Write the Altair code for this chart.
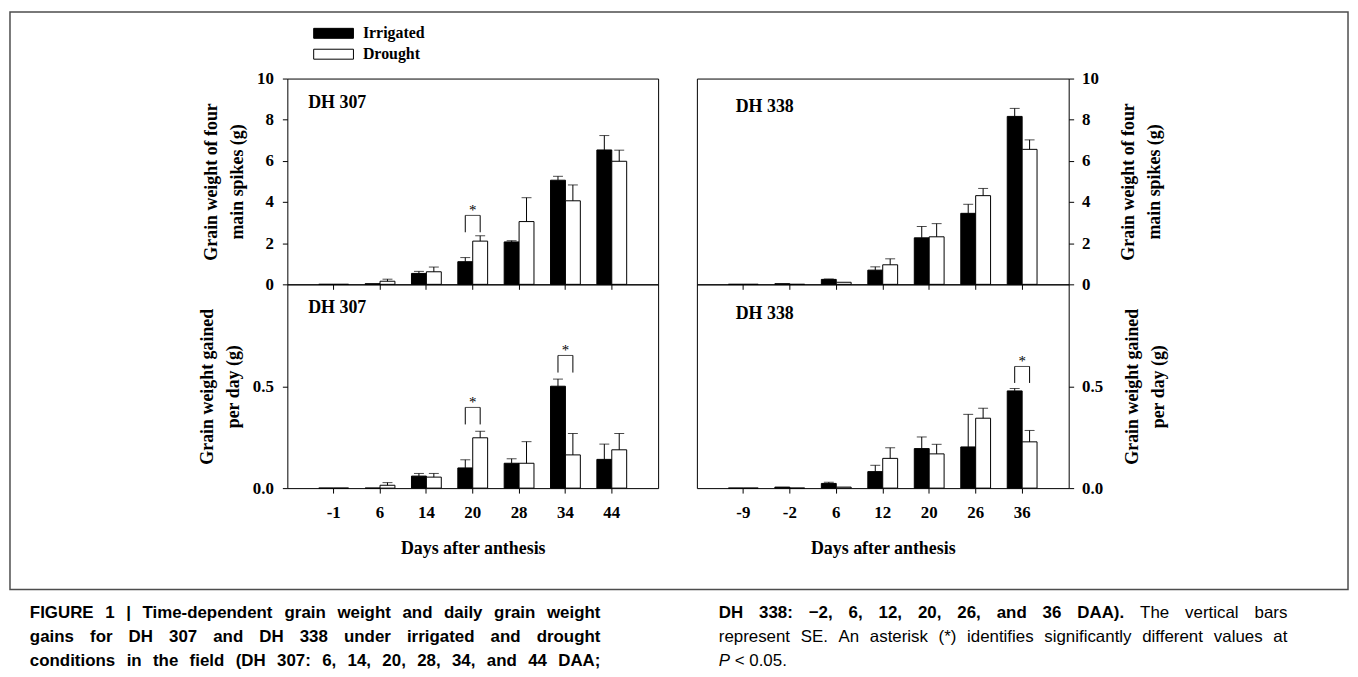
import altair as alt
import pandas as pd

SERIES = ["Irrigated", "Drought"]

days_307 = ["-1", "6", "14", "20", "28", "34", "44"]
days_338 = ["-9", "-2", "6", "12", "20", "26", "36"]

# Grain weight of four main spikes (g)
gw307_irr = [0, 0.03, 0.53, 1.10, 2.06, 5.06, 6.53]
gw307_irr_se = [0, 0, 0.10, 0.20, 0.06, 0.19, 0.70]
gw307_dro = [0, 0.15, 0.61, 2.10, 3.05, 4.06, 5.98]
gw307_dro_se = [0, 0.10, 0.23, 0.26, 1.16, 0.77, 0.54]

gw338_irr = [0, 0.03, 0.24, 0.69, 2.26, 3.45, 8.16]
gw338_irr_se = [0, 0, 0.02, 0.16, 0.55, 0.44, 0.39]
gw338_dro = [0, 0, 0.10, 0.95, 2.31, 4.31, 6.56]
gw338_dro_se = [0, 0, 0, 0.29, 0.64, 0.35, 0.46]

# Grain weight gained per day (g)
rate307_irr = [0, 0, 0.059, 0.099, 0.122, 0.50, 0.141]
rate307_irr_se = [0, 0, 0.013, 0.040, 0.022, 0.035, 0.075]
rate307_dro = [0, 0.014, 0.054, 0.247, 0.122, 0.163, 0.188]
rate307_dro_se = [0, 0.013, 0.018, 0.032, 0.106, 0.105, 0.080]

rate338_irr = [0, 0.005, 0.023, 0.081, 0.194, 0.202, 0.477]
rate338_irr_se = [0, 0, 0.006, 0.031, 0.057, 0.160, 0.012]
rate338_dro = [0, 0, 0.005, 0.146, 0.168, 0.343, 0.227]
rate338_dro_se = [0, 0, 0, 0.052, 0.047, 0.049, 0.056]

# significance brackets: day, leg bottom, bracket top, asterisk
sig_gw307 = [("20", 2.53, 3.35, 3.63)]
sig_rate307 = [("20", 0.3125, 0.396, 0.42), ("34", 0.567, 0.651, 0.676)]
sig_gw338 = []
sig_rate338 = [("36", 0.516, 0.597, 0.623)]

# caption: each line is a list of (text, weight, style) runs
caption_left = [
    [("FIGURE 1 | Time-dependent grain weight and daily grain weight", "bold", "normal")],
    [("gains for DH 307 and DH 338 under irrigated and drought", "bold", "normal")],
    [("conditions in the field (DH 307: 6, 14, 20, 28, 34, and 44 DAA;", "bold", "normal")],
]
caption_right = [
    [("DH 338: \u22122, 6, 12, 20, 26, and 36 DAA).", "bold", "normal"),
     ("The vertical bars", "normal", "normal")],
    [("represent SE. An asterisk (*) identifies significantly different values at", "normal", "normal")],
    [("P", "normal", "italic"), ("< 0.05.", "normal", "normal")],
]

SERIF = "Liberation Serif"
SANS = "Liberation Sans"
CAP_SIZE = 17

# Liberation Sans (Arial-metric) advance widths, 1/1000 em
_REG = dict(zip("ABCDEFGHIJKLMNOPQRSTUVWXYZ",
                [667, 667, 722, 722, 667, 611, 778, 722, 278, 500, 667, 556, 833, 722, 778, 667, 778, 722, 667, 611, 722, 667, 944, 667, 667, 611]))
_REG.update(dict(zip("abcdefghijklmnopqrstuvwxyz",
                     [556, 556, 500, 556, 556, 278, 556, 556, 222, 222, 500, 222, 833, 556, 556, 556, 556, 333, 500, 278, 556, 500, 722, 500, 500, 500])))
_REG.update({" ": 278, "(": 333, ")": 333, "*": 389, ",": 278, "-": 333, ".": 278, ":": 278,
             ";": 278, "<": 584, "|": 260, "\u2212": 584})
_REG.update({d: 556 for d in "0123456789"})
_BOLD = dict(zip("ABCDEFGHIJKLMNOPQRSTUVWXYZ",
                 [722, 722, 722, 722, 667, 611, 778, 722, 278, 556, 722, 611, 833, 722, 778, 667, 778, 722, 667, 611, 722, 667, 944, 667, 667, 611]))
_BOLD.update(dict(zip("abcdefghijklmnopqrstuvwxyz",
                      [556, 611, 556, 611, 556, 333, 611, 611, 278, 278, 556, 278, 889, 611, 611, 611, 611, 389, 556, 333, 611, 556, 778, 556, 556, 500])))
_BOLD.update({" ": 278, "(": 333, ")": 333, "*": 389, ",": 278, "-": 333, ".": 278, ":": 333,
              ";": 333, "<": 584, "|": 280, "\u2212": 584})
_BOLD.update({d: 556 for d in "0123456789"})


def text_width(s, weight):
    table = _BOLD if weight == "bold" else _REG
    return sum(table.get(c, 556) for c in s) * CAP_SIZE / 1000.0


def layout_caption(lines, x0, x1, y0, dy, justified):
    """Place caption words; justified lines are spread between x0 and x1."""
    rows = []
    for li, runs in enumerate(lines):
        words = []
        for text, weight, style in runs:
            for w in text.split(" "):
                words.append((w, weight, style))
        widths = [text_width(w, wt) for w, wt, st in words]
        if justified[li] and len(words) > 1:
            gap = (x1 - x0 - sum(widths)) / (len(words) - 1)
        else:
            gap = text_width(" ", "normal")
        x = x0
        for (w, wt, st), wd in zip(words, widths):
            rows.append(dict(t=w, px=x, py=y0 + li * dy, weight=wt, style=st))
            x += wd + gap
    return rows


LEGEND = alt.Legend(
    orient="none", legendX=36, legendY=-56, title=None,
    symbolType="M-2,-0.5H2V0.5H-2Z", symbolSize=400,
    symbolStrokeColor="black", symbolStrokeWidth=1,
    labelFont=SERIF, labelFontWeight="bold", labelFontSize=16,
    labelOffset=19, rowPadding=2, padding=0, labelColor="black",
)


def long_df(days, irr, irr_se, dro, dro_se):
    rows = []
    for i, d in enumerate(days):
        rows.append(dict(day=d, series="Irrigated", value=irr[i], se=irr_se[i], upper=irr[i] + irr_se[i]))
        rows.append(dict(day=d, series="Drought", value=dro[i], se=dro_se[i], upper=dro[i] + dro_se[i]))
    return pd.DataFrame(rows)


def text_layer(text, x, y, font, size, weight="bold", style="normal"):
    return alt.Chart(pd.DataFrame({"t": [text]})).mark_text(
        align="left", baseline="middle", font=font, fontSize=size,
        fontWeight=weight, fontStyle=style, color="black",
    ).encode(text="t:N", x=alt.value(x), y=alt.value(y))


def panel(days, df, sig, ydom, yvals, yfmt, ytitle, yorient, bottom, label, label_xy, width, height, extra=()):
    xaxis_kw = dict(labels=bottom, tickSize=5, domain=False, grid=False, labelAngle=0,
                    labelFontSize=17, labelPadding=12, ticks=True)
    if bottom:
        xaxis_kw.update(title="Days after anthesis", titleFontSize=18, titlePadding=19)
    else:
        xaxis_kw.update(title=None)
    xenc = alt.X("day:N", scale=alt.Scale(domain=days, paddingInner=0, paddingOuter=0.5),
                 axis=alt.Axis(**xaxis_kw))
    xoff = alt.XOffset("series:N", scale=alt.Scale(domain=SERIES, paddingInner=0, paddingOuter=0.555))
    if yorient == "left":
        lpad, tpad = 9, 10
    else:
        lpad, tpad = 8, 13
    yaxis = alt.Axis(values=yvals, format=yfmt, orient=yorient, title=ytitle, tickSize=5,
                     domain=False, grid=False, labelFontSize=17, labelPadding=lpad,
                     titleFontSize=18, titleLineHeight=26, titlePadding=tpad, titleAngle=270)
    yscale = alt.Scale(domain=ydom, nice=False, zero=True)

    bars = alt.Chart(df).mark_bar(stroke="black", strokeWidth=1).encode(
        x=xenc, xOffset=xoff,
        y=alt.Y("value:Q", scale=yscale, axis=yaxis),
        fill=alt.Fill("series:N", scale=alt.Scale(domain=SERIES, range=["black", "white"]), legend=LEGEND),
    )
    err = df[df["se"] > 0]
    rules = alt.Chart(err).mark_rule(color="black", strokeWidth=1).encode(
        x=xenc, xOffset=xoff, y=alt.Y("value:Q", scale=yscale, axis=yaxis), y2="upper:Q")
    caps = alt.Chart(err).mark_tick(color="black", size=10, thickness=1).encode(
        x=xenc, xOffset=xoff, y=alt.Y("upper:Q", scale=yscale, axis=yaxis))
    layers = [bars, rules, caps]
    if sig:
        legs = pd.DataFrame([dict(day=d, series=s, lo=lo, hi=hi) for d, lo, hi, st in sig for s in SERIES])
        tops = pd.DataFrame([dict(day=d, hi=hi, star=st) for d, lo, hi, st in sig])
        layers.append(alt.Chart(legs).mark_rule(color="black", strokeWidth=1).encode(
            x=xenc, xOffset=xoff, y=alt.Y("lo:Q", scale=yscale, axis=yaxis), y2="hi:Q"))
        layers.append(alt.Chart(tops).mark_tick(color="black", size=15, thickness=1).encode(
            x=xenc, y=alt.Y("hi:Q", scale=yscale, axis=yaxis)))
        layers.append(alt.Chart(tops).mark_text(text="*", font=SERIF, fontSize=15, color="#000000",
                                                baseline="middle").encode(
            x=xenc, y=alt.Y("star:Q", scale=yscale, axis=yaxis)))
    layers.append(text_layer(label, label_xy[0], label_xy[1], SERIF, 18))
    layers.extend(extra)
    return alt.layer(*layers).properties(width=width, height=height)


df_gw307 = long_df(days_307, gw307_irr, gw307_irr_se, gw307_dro, gw307_dro_se)
df_gw338 = long_df(days_338, gw338_irr, gw338_irr_se, gw338_dro, gw338_dro_se)
df_r307 = long_df(days_307, rate307_irr, rate307_irr_se, rate307_dro, rate307_dro_se)
df_r338 = long_df(days_338, rate338_irr, rate338_irr_se, rate338_dro, rate338_dro_se)

T1 = ["Grain weight of four", "main spikes (g)"]
T2 = ["Grain weight gained", "per day (g)"]

frame = alt.Chart(pd.DataFrame({"f": [1]})).mark_rect(
    fill="transparent", stroke="#4d4d4d", strokeWidth=1.5
).encode(x=alt.value(-279), x2=alt.value(1067), y=alt.value(-67), y2=alt.value(514))

# caption, in bottom-left panel coordinates (panel origin at page x 287, y 282)
cap_rows = (layout_caption(caption_left, -259, 315, 331, 24, [True, True, True])
            + layout_caption(caption_right, 434, 1006, 331, 24, [True, True, False]))
cap_df = pd.DataFrame(cap_rows)
caption_layers = []
for (wt, st), sub in cap_df.groupby(["weight", "style"]):
    caption_layers.append(
        alt.Chart(sub).mark_text(align="left", baseline="middle", font=SANS, fontSize=CAP_SIZE,
                                 fontWeight=wt, fontStyle=st, color="black").encode(
            text="t:N", x=alt.X("px:Q", scale=None, axis=None), y=alt.Y("py:Q", scale=None, axis=None))
    )

tl = panel(days_307, df_gw307, sig_gw307, [0, 10], [0, 2, 4, 6, 8, 10], "d", T1, "left", False,
           "DH 307", (21, 25), 373, 207, extra=[frame])
bl = panel(days_307, df_r307, sig_rate307, [0, 1], [0, 0.5], ".1f", T2, "left", True,
           "DH 307", (21, 24), 373, 205, extra=caption_layers)
tr = panel(days_338, df_gw338, sig_gw338, [0, 10], [0, 2, 4, 6, 8, 10], "d", T1, "right", False,
           "DH 338", (39, 29), 374, 207)
br = panel(days_338, df_r338, sig_rate338, [0, 1], [0, 0.5], ".1f", T2, "right", True,
           "DH 338", (39, 30), 374, 205)

chart = alt.concat(
    tl, tr, bl, br, columns=2, spacing={"row": 0, "column": 39}, bounds="flush"
).properties(
    padding=0, background="white"
).configure_view(
    stroke="black", strokeWidth=1
).configure_axis(
    labelFont=SERIF, labelFontWeight="bold", labelColor="black",
    titleFont=SERIF, titleFontWeight="bold", titleColor="black",
    tickColor="black", tickWidth=1,
)

chart.save("out.html", embed_options={"renderer": "svg", "actions": False})
